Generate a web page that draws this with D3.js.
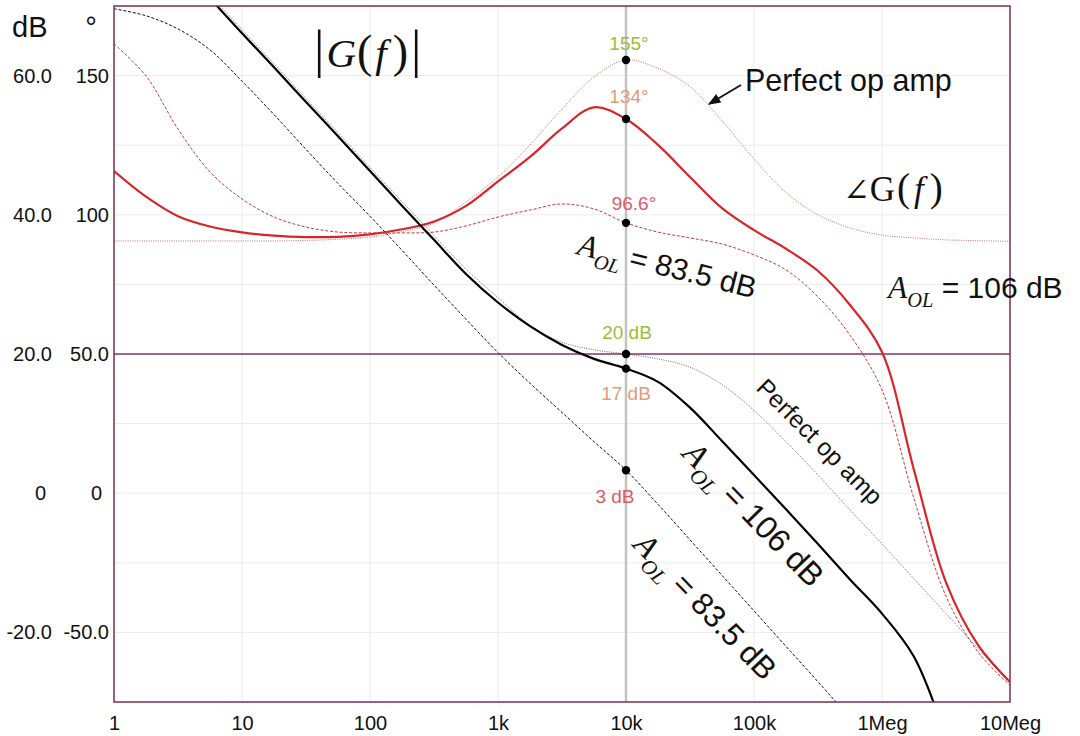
<!DOCTYPE html>
<html>
<head>
<meta charset="utf-8">
<script src="https://cdn.jsdelivr.net/npm/d3@7"></script>
<style>
  body { margin: 0; background: #fff; }
  text { font-family: "Liberation Sans", Arial, sans-serif; }
  .math { font-family: "Liberation Serif", "Times New Roman", serif; }
</style>
</head>
<body>
<div id="chart"></div>
<script>
// frequency grid, quarter decades from 1 Hz to 10 MHz
const freqHz = [1, 1.778, 3.162, 5.623, 10, 17.78, 31.62, 56.23, 100, 177.8, 316.2, 562.3,
  1000, 1778, 3162, 5623, 10000, 17780, 31620, 56230, 100000, 177800, 316200, 562300,
  1000000, 1778000, 3162000, 5623000, 10000000];

// |G(f)| in dB
const gainAol106 = [85.9, 81.0, 76.0, 71.1, 66.1, 61.2, 56.2, 51.3, 46.3, 41.3, 36.4, 31.5,
  27.4, 24.0, 21.3, 19.3, 17.9, 16.0, 12.3, 7.5, 2.6, -2.3, -7.3, -12.4,
  -17.3, -23.5, -35.0, -49.0, -64.0];
const gainPerfect = [86.4, 81.5, 76.5, 71.6, 66.6, 61.7, 56.7, 51.8, 46.8, 41.9, 37.0, 32.2,
  28.1, 24.1, 21.7, 20.6, 20.0, 19.3, 18.1, 15.6, 11.9, 7.4, 2.6, -2.4,
  -7.3, -12.3, -17.3, -22.3, -27.3];
const gainAol83 = [69.6, 68.6, 66.7, 63.7, 59.2, 54.4, 49.4, 44.5, 39.8, 34.9, 29.9, 25.0,
  20.2, 15.8, 11.6, 7.4, 3.3, -1.6, -6.7, -11.8, -16.9, -22.0, -27.1, -32.3,
  -37.6, -43, -49, -55, -61];

// angle G(f) in degrees
const phaseAol106 = [115.7, 106.5, 99.5, 95.8, 93.7, 92.5, 92.0, 92.1, 93.0, 94.8, 97.6, 103.2,
  112.0, 120.8, 131.0, 138.6, 134.4, 125.1, 113.6, 102.4, 94.5, 87.8, 79.8, 67.6,
  50.7, 8.3, -32.0, -54.5, -67.8];
const phaseAol83 = [161.4, 149.9, 130.8, 115.4, 105.7, 99.2, 95.6, 93.8, 93.5, 93.5, 93.8, 96.0,
  99.2, 101.7, 103.9, 102.1, 97.1, 93.8, 91.7, 89.5, 85.6, 80.2, 70.5, 56.8,
  37.1, -2.0, -37.0, -57.0, -69.0];
const phasePerfect = [90.6, 90.6, 90.6, 90.6, 90.6, 90.6, 90.8, 91.2, 92.0, 94.0, 97.0, 104.6,
  113.6, 125.1, 138.0, 149.5, 155.6, 152.6, 146.0, 133.8, 120.0, 108.0, 100.0, 95.3,
  92.7, 91.7, 91.0, 90.7, 90.5];

const xTickVals = [1, 10, 100, 1e3, 1e4, 1e5, 1e6, 1e7];
const xTickText = ["1", "10", "100", "1k", "10k", "100k", "1Meg", "10Meg"];
const yTickDb = [60, 40, 20, 0, -20];
const yTickDbText = ["60.0", "40.0", "20.0", "0", "-20.0"];
const yTickDeg = [150, 100, 50, 0, -50];
const yTickDegText = ["150", "100", "50.0", "0", "-50.0"];

const markFreq = 10000;
const markLabels = ["155°", "134°", "96.6°", "20 dB", "17 dB", "3 dB"];

const width = 1080, height = 736,
  plot = {left: 114, right: 1010, top: 6, bottom: 702};

const x = d3.scaleLog().domain([1, 1e7]).range([plot.left, plot.right]);
const yDb = d3.scaleLinear().domain([-30, 70]).range([plot.bottom, plot.top]);
const yDeg = d3.scaleLinear().domain([-75, 175]).range([plot.bottom, plot.top]);

const svg = d3.select("#chart").append("svg")
  .attr("width", width).attr("height", height)
  .style("background", "#fff");

const defs = svg.append("defs");
defs.append("clipPath").attr("id", "clip")
  .append("rect")
  .attr("x", plot.left).attr("y", plot.top)
  .attr("width", plot.right - plot.left).attr("height", plot.bottom - plot.top);
defs.append("marker")
  .attr("id", "arrow").attr("viewBox", "0 0 10 10")
  .attr("refX", 9).attr("refY", 5)
  .attr("markerWidth", 7).attr("markerHeight", 7)
  .attr("orient", "auto-start-reverse")
  .append("path").attr("d", "M0,1 L10,5 L0,9 z").attr("fill", "#111");

// light grid
const grid = svg.append("g");
grid.selectAll(".vg")
  .data(xTickVals.slice(1, -1))
  .enter().append("line")
  .attr("x1", d => x(d)).attr("x2", d => x(d))
  .attr("y1", plot.top).attr("y2", plot.bottom)
  .attr("stroke", "#ebebeb").attr("stroke-width", 1);
grid.selectAll(".hg")
  .data(yDb.ticks(10).filter(d => d > -30 && d < 70))
  .enter().append("line")
  .attr("x1", plot.left).attr("x2", plot.right)
  .attr("y1", d => yDb(d)).attr("y2", d => yDb(d))
  .attr("stroke", "#ebebeb").attr("stroke-width", 1);

// 10k cursor and 20 dB reference
svg.append("line")
  .attr("x1", x(markFreq)).attr("x2", x(markFreq))
  .attr("y1", plot.top).attr("y2", plot.bottom)
  .attr("stroke", "#c2c2c2").attr("stroke-width", 2.5);
svg.append("line")
  .attr("x1", plot.left).attr("x2", plot.right)
  .attr("y1", yDb(20)).attr("y2", yDb(20))
  .attr("stroke", "#8a3466").attr("stroke-width", 1.3);

const curves = svg.append("g").attr("clip-path", "url(#clip)");

function addCurve(vals, yScale, color, w, dash) {
  const line = d3.line()
    .x((d, i) => x(freqHz[i]))
    .y(d => yScale(d))
    .curve(d3.curveCatmullRom.alpha(0.5));
  curves.append("path")
    .datum(vals)
    .attr("d", line)
    .attr("fill", "none")
    .attr("stroke", color)
    .attr("stroke-width", w)
    .attr("stroke-dasharray", dash);
}

addCurve(phasePerfect, yDeg, "#c0605a", 0.9, "1,1.3");
addCurve(phaseAol83, yDeg, "#c4383c", 1, "3,1.8");
addCurve(phaseAol106, yDeg, "#d7262b", 2.2, null);
addCurve(gainPerfect, yDb, "#444", 0.8, "1,1.3");
addCurve(gainAol83, yDb, "#111", 1, "3,1.8");
addCurve(gainAol106, yDb, "#000", 2.2, null);

// plot frame
svg.append("rect")
  .attr("x", plot.left).attr("y", plot.top)
  .attr("width", plot.right - plot.left).attr("height", plot.bottom - plot.top)
  .attr("fill", "none").attr("stroke", "#7a2c57").attr("stroke-width", 1.5);

// markers at 10 kHz
const mi = freqHz.indexOf(markFreq);
const marks = [
  {y: yDeg(phasePerfect[mi]), color: "#9dbb3a", dx: 3, dy: -10},
  {y: yDeg(phaseAol106[mi]), color: "#e19c78", dx: 3, dy: -16},
  {y: yDeg(phaseAol83[mi]), color: "#d85e66", dx: 8, dy: -13},
  {y: yDb(gainPerfect[mi]), color: "#9dbb3a", dx: 1, dy: -15},
  {y: yDb(gainAol106[mi]), color: "#e19c78", dx: 0, dy: 31},
  {y: yDb(gainAol83[mi]), color: "#d85e66", dx: -11, dy: 33}
];
marks.forEach((m, i) => m.text = markLabels[i]);

svg.selectAll(".dot")
  .data(marks)
  .enter().append("circle")
  .attr("cx", x(markFreq)).attr("cy", d => d.y).attr("r", 4.2)
  .attr("fill", "#000");
svg.selectAll(".mark-label")
  .data(marks)
  .enter().append("text")
  .attr("x", d => x(markFreq) + d.dx).attr("y", d => d.y + d.dy)
  .attr("text-anchor", "middle")
  .attr("font-size", 19)
  .attr("fill", d => d.color)
  .text(d => d.text);

// axes
function styleAxis(g) {
  g.select(".domain").remove();
  g.selectAll("text").attr("font-family", "Liberation Sans, Arial, sans-serif")
    .attr("font-size", 20).attr("fill", "#111");
}
svg.append("g")
  .attr("transform", "translate(52,0)")
  .call(d3.axisLeft(yDb).tickValues(yTickDb).tickSize(0).tickPadding(0)
    .tickFormat((d, i) => yTickDbText[i]))
  .call(styleAxis)
  .selectAll("text").filter(d => d === 0).attr("dx", -6);
svg.append("g")
  .attr("transform", "translate(109,0)")
  .call(d3.axisLeft(yDeg).tickValues(yTickDeg).tickSize(0).tickPadding(0)
    .tickFormat((d, i) => yTickDegText[i]))
  .call(styleAxis)
  .selectAll("text").filter(d => d === 0).attr("dx", -7);
svg.append("g")
  .attr("transform", "translate(0,716)")
  .call(d3.axisBottom(x).tickValues(xTickVals).tickSize(0).tickPadding(0)
    .tickFormat((d, i) => xTickText[i]))
  .call(styleAxis);

svg.append("text").attr("x", 12).attr("y", 37).attr("font-size", 29).attr("fill", "#111").text("dB");
svg.append("text").attr("x", 91).attr("y", 37).attr("font-size", 29).attr("fill", "#111")
  .attr("text-anchor", "middle").text("°");

// |G(f)|
const mag = svg.append("text").attr("class", "math").attr("x", 314).attr("y", 67).attr("fill", "#111");
mag.append("tspan").attr("font-size", 52).text("|");
mag.append("tspan").attr("font-size", 41).attr("font-style", "italic").attr("dx", 2).text("G");
mag.append("tspan").attr("font-size", 46).attr("dx", 1).text("(");
mag.append("tspan").attr("font-size", 41).attr("font-style", "italic").attr("dx", 3).text("f");
mag.append("tspan").attr("font-size", 46).attr("dx", 6).text(")");
mag.append("tspan").attr("font-size", 52).attr("dx", 3).text("|");

// angle G(f)
const ang = svg.append("text").attr("class", "math").attr("x", 843).attr("y", 201).attr("fill", "#111");
ang.append("tspan").attr("font-size", 32).attr("font-family", "DejaVu Serif, serif").text("∠");
ang.append("tspan").attr("font-size", 35).text("G");
ang.append("tspan").attr("font-size", 39).attr("dx", 2).text("(");
ang.append("tspan").attr("font-size", 35).attr("font-style", "italic").attr("dx", 4).text("f");
ang.append("tspan").attr("font-size", 39).attr("dx", 6).text(")");

// Perfect op amp with arrow
svg.append("text").attr("x", 745).attr("y", 91).attr("font-size", 30.5).attr("fill", "#111")
  .text("Perfect op amp");
svg.append("line")
  .attr("x1", 741).attr("y1", 85).attr("x2", 709).attr("y2", 104)
  .attr("stroke", "#111").attr("stroke-width", 1.8)
  .attr("marker-end", "url(#arrow)");

// A_OL labels
function aolLabel(tx, ty, rot, size, rest) {
  const g = svg.append("g").attr("transform", `translate(${tx},${ty}) rotate(${rot})`);
  const t = g.append("text").attr("fill", "#111");
  t.append("tspan").attr("class", "math").attr("font-style", "italic")
    .attr("font-size", size * 1.05).text("A");
  t.append("tspan").attr("class", "math").attr("font-style", "italic")
    .attr("font-size", size * 0.68).attr("dy", size * 0.3).text("OL");
  t.append("tspan").attr("font-size", size).attr("dy", -size * 0.3).text(" = " + rest);
}
aolLabel(576, 254, 14, 30, "83.5 dB");
aolLabel(888, 298, 0, 30, "106 dB");
aolLabel(681, 455, 46, 32, "106 dB");
aolLabel(632, 546, 46, 31, "83.5 dB");

svg.append("text")
  .attr("transform", "translate(755,389) rotate(45)")
  .attr("font-size", 24.5).attr("fill", "#111")
  .text("Perfect op amp");
</script>
</body>
</html>
